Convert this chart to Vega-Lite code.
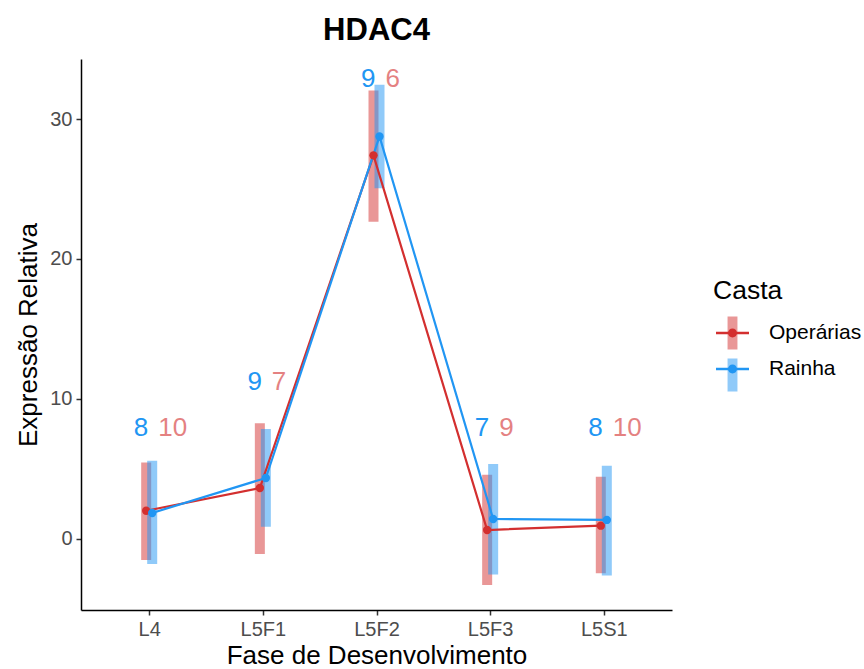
{
  "$schema": "https://vega.github.io/schema/vega-lite/v6.json",
  "autosize": {"type": "none"},
  "width": 591,
  "height": 551,
  "padding": {"left": 81, "top": 59, "right": 192, "bottom": 59},
  "background": "white",
  "config": {
    "font": "Liberation Sans",
    "view": {"stroke": null},
    "axis": {
      "domainColor": "black", "domainWidth": 1.5,
      "tickColor": "#333333", "tickWidth": 1.5, "tickSize": 5,
      "labelColor": "#4D4D4D", "labelFontSize": 20,
      "titleColor": "black", "titleFontSize": 26, "titleFontWeight": "normal",
      "grid": false
    },
    "legend": {
      "titleFontSize": 26.5, "titleFontWeight": "normal", "titleColor": "black",
      "labelFontSize": 21, "labelColor": "black",
      "symbolSize": 1089, "symbolStrokeWidth": 0,
      "padding": 0, "rowPadding": 9, "titlePadding": 12,
      "labelOffset": 20, "symbolOffset": 3
    }
  },
  "title": {"text": "HDAC4", "fontSize": 31, "fontWeight": "bold", "anchor": "middle", "color": "black", "offset": 12},
  "data": {"values": [
    {"fase": "L4", "casta": "Operárias", "media": 2.0, "inf": -1.52, "sup": 5.45, "n": 10, "ylab": 7.93},
    {"fase": "L4", "casta": "Rainha", "media": 1.84, "inf": -1.81, "sup": 5.57, "n": 8, "ylab": 7.93},
    {"fase": "L5F1", "casta": "Operárias", "media": 3.62, "inf": -1.09, "sup": 8.26, "n": 7, "ylab": 11.2},
    {"fase": "L5F1", "casta": "Rainha", "media": 4.34, "inf": 0.86, "sup": 7.84, "n": 9, "ylab": 11.2},
    {"fase": "L5F2", "casta": "Operárias", "media": 27.41, "inf": 22.66, "sup": 32.05, "n": 6, "ylab": 32.9},
    {"fase": "L5F2", "casta": "Rainha", "media": 28.76, "inf": 25.05, "sup": 32.45, "n": 9, "ylab": 32.9},
    {"fase": "L5F3", "casta": "Operárias", "media": 0.62, "inf": -3.31, "sup": 4.57, "n": 9, "ylab": 7.93},
    {"fase": "L5F3", "casta": "Rainha", "media": 1.41, "inf": -2.57, "sup": 5.34, "n": 7, "ylab": 7.93},
    {"fase": "L5S1", "casta": "Operárias", "media": 0.93, "inf": -2.48, "sup": 4.43, "n": 10, "ylab": 7.93},
    {"fase": "L5S1", "casta": "Rainha", "media": 1.34, "inf": -2.64, "sup": 5.21, "n": 8, "ylab": 7.93}
  ]},
  "encoding": {
    "x": {
      "field": "fase", "type": "ordinal",
      "sort": ["L4", "L5F1", "L5F2", "L5F3", "L5S1"],
      "scale": {"type": "point", "padding": 0.6},
      "axis": {"title": "Fase de Desenvolvimento", "labelAngle": 0, "labelPadding": 4, "titlePadding": 3}
    }
  },
  "layer": [
    {
      "transform": [{"filter": "datum.casta === 'Operárias'"}],
      "mark": {"type": "bar", "width": 10, "xOffset": -3, "opacity": 0.5},
      "encoding": {
        "y": {"field": "inf", "type": "quantitative", "scale": {"domain": [-5.1, 34.3], "nice": false, "zero": false},
              "axis": {"title": "Expressão Relativa", "values": [0, 10, 20, 30], "labelPadding": 4, "titlePadding": 8}},
        "y2": {"field": "sup"},
        "color": {"field": "casta", "type": "nominal",
                  "scale": {"domain": ["Operárias", "Rainha"], "range": ["#D32F2F", "#2196F3"]},
                  "legend": {"orient": "none", "legendX": 632, "legendY": 219, "title": " ",
                             "labelExpr": "' '",
                             "symbolType": "M-0.3,-1H0.3V1H-0.3Z", "symbolOpacity": 0.5}}
      }
    },
    {
      "transform": [{"filter": "datum.casta === 'Rainha'"}],
      "mark": {"type": "bar", "width": 10, "xOffset": 3, "opacity": 0.5},
      "encoding": {
        "y": {"field": "inf", "type": "quantitative"},
        "y2": {"field": "sup"},
        "color": {"field": "casta", "type": "nominal"}
      }
    },
    {
      "transform": [{"filter": "datum.casta === 'Operárias'"}],
      "mark": {"type": "line", "xOffset": -3, "strokeWidth": 2.2},
      "encoding": {
        "y": {"field": "media", "type": "quantitative"},
        "stroke": {"field": "casta", "type": "nominal",
                   "scale": {"domain": ["Operárias", "Rainha"], "range": ["#D32F2F", "#2196F3"]}, "legend": null}
      }
    },
    {
      "transform": [{"filter": "datum.casta === 'Rainha'"}],
      "mark": {"type": "line", "xOffset": 3, "strokeWidth": 2.2},
      "encoding": {
        "y": {"field": "media", "type": "quantitative"},
        "stroke": {"field": "casta", "type": "nominal", "legend": null}
      }
    },
    {
      "transform": [{"filter": "datum.casta === 'Operárias'"}],
      "mark": {"type": "point", "filled": true, "xOffset": -3, "size": 70, "opacity": 1},
      "encoding": {
        "y": {"field": "media", "type": "quantitative"},
        "fill": {"field": "casta", "type": "nominal",
                 "scale": {"range": ["#D32F2F", "#2196F3"]},
                 "legend": {"orient": "none", "legendX": 632, "legendY": 219, "title": "Casta",
                            "symbolType": "M-1,-0.08H1V0.08H-1Z M-0.27,0A0.27,0.27 0 1,1 0.27,0A0.27,0.27 0 1,1 -0.27,0Z",
                            "symbolOpacity": 1}}
      }
    },
    {
      "transform": [{"filter": "datum.casta === 'Rainha'"}],
      "mark": {"type": "point", "filled": true, "xOffset": 3, "size": 70, "opacity": 1},
      "encoding": {
        "y": {"field": "media", "type": "quantitative"},
        "fill": {"field": "casta", "type": "nominal"}
      }
    },
    {
      "transform": [{"filter": "datum.casta === 'Rainha'"}],
      "mark": {"type": "text", "align": "right", "baseline": "middle", "xOffset": -1, "fontSize": 26, "color": "#2196F3"},
      "encoding": {
        "y": {"field": "ylab", "type": "quantitative"},
        "text": {"field": "n", "type": "quantitative"}
      }
    },
    {
      "transform": [{"filter": "datum.casta === 'Operárias'"}],
      "mark": {"type": "text", "align": "left", "baseline": "middle", "xOffset": 9, "fontSize": 26, "color": "#D32F2F", "opacity": 0.6},
      "encoding": {
        "y": {"field": "ylab", "type": "quantitative"},
        "text": {"field": "n", "type": "quantitative"}
      }
    }
  ]
}
